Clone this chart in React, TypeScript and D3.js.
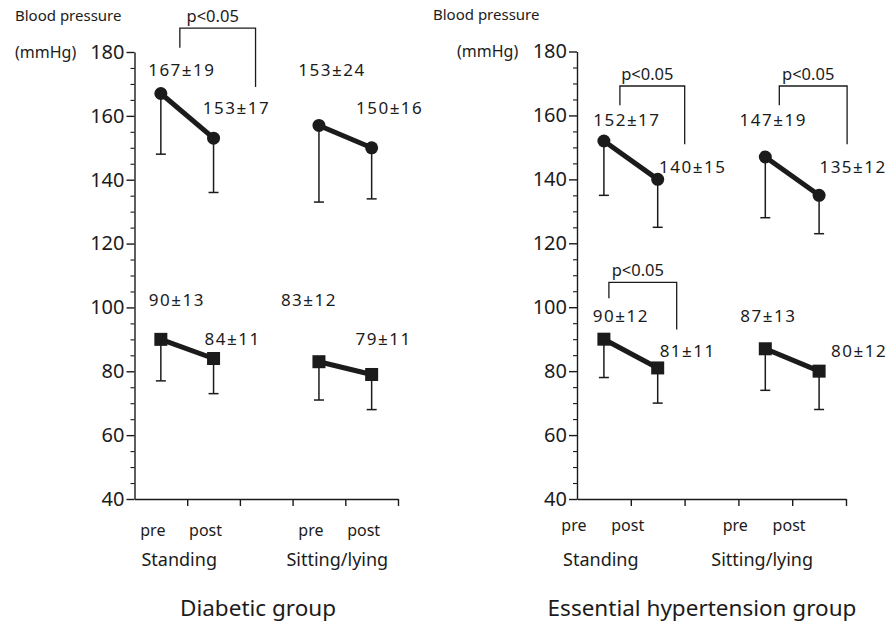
import React, { useEffect, useRef } from "react";
import * as d3 from "d3";

const phases = ["pre", "post", "", "pre", "post"];
const postures = ["Standing", "Sitting/lying"];
const yTicks = [40, 60, 80, 100, 120, 140, 160, 180];
// slot of each measurement: standing pre, standing post, sitting pre, sitting post
const slots = [0, 1, 3, 4];

const diabeticSystolic = [167, 153, 157, 150];
const diabeticSystolicSd = [19, 17, 24, 16];
const diabeticSystolicText = ["167±19", "153±17", "153±24", "150±16"];
const diabeticDiastolic = [90, 84, 83, 79];
const diabeticDiastolicSd = [13, 11, 12, 11];
const diabeticDiastolicText = ["90±13", "84±11", "83±12", "79±11"];

const essentialSystolic = [152, 140, 147, 135];
const essentialSystolicSd = [17, 15, 19, 12];
const essentialSystolicText = ["152±17", "140±15", "147±19", "135±12"];
const essentialDiastolic = [90, 81, 87, 80];
const essentialDiastolicSd = [12, 11, 13, 12];
const essentialDiastolicText = ["90±12", "81±11", "87±13", "80±12"];

const pLabel = "p<0.05";

const FONT = "'Noto Sans', 'DejaVu Sans', sans-serif";
const INK = "#1b1b1b";

// layout of the two panels
const panels = [
  {
    title: "Diabetic group",
    titleX: 258,
    x0: 134.5, x1: 398, top: 52, bottom: 499,
    labelShift: -8, phaseY: 530,
    bpX: 15, bpY: 16, mmX: 15,
    sys: diabeticSystolic, sysSd: diabeticSystolicSd, sysText: diabeticSystolicText,
    dia: diabeticDiastolic, diaSd: diabeticDiastolicSd, diaText: diabeticDiastolicText,
    sysDx: [21, 23, 13, 18], sysTy: [174.4, 162.5, 174.4, 162.5],
    diaDx: [16, 19, -10, 12], diaTy: [102.3, 90.1, 102.3, 90.1],
    brackets: [{ pair: 0, dl: 19, dr: 42, top: 187.5, legL: 181.3, legR: 169 }],
  },
  {
    title: "Essential hypertension group",
    titleX: 702,
    x0: 577, x1: 846, top: 51.5, bottom: 499,
    labelShift: -30, phaseY: 525,
    bpX: 433, bpY: 15, mmX: 457,
    sys: essentialSystolic, sysSd: essentialSystolicSd, sysText: essentialSystolicText,
    dia: essentialDiastolic, diaSd: essentialDiastolicSd, diaText: essentialDiastolicText,
    sysDx: [23, 35, 8, 34], sysTy: [158.5, 143.8, 158.5, 143.8],
    diaDx: [17, 30, 3, 40], diaTy: [97.2, 86.2, 97.2, 86.2],
    brackets: [
      { pair: 0, dl: 16, dr: 27, top: 169.2, legL: 163.2, legR: 151 },
      { pair: 1, dl: 14, dr: 28, top: 169.2, legL: 163.2, legR: 151 },
      { pair: 0, dl: 5, dr: 19, top: 107.8, legL: 102.8, legR: 93 },
    ],
  },
];

export default function App() {
  const ref = useRef<SVGSVGElement>(null);

  useEffect(() => {
    const svg = d3.select(ref.current);
    svg.selectAll("*").remove();

    panels.forEach((p) => {
      const g = svg.append("g");
      const y = d3.scaleLinear().domain([40, 180]).range([p.bottom, p.top]);
      const x = d3.scaleBand<number>().domain(d3.range(5)).range([p.x0, p.x1]).padding(0);
      const cx = (i: number) => (x(i) as number) + x.bandwidth() / 2;
      const edges = d3.scaleLinear().domain([0, 5]).range([p.x0, p.x1]);

      // y axis
      const yAxis = g.append("g")
        .attr("transform", `translate(${p.x0},0)`)
        .call(d3.axisLeft(y).tickValues(yTicks).tickSize(8).tickSizeOuter(0).tickPadding(2));
      yAxis.attr("font-family", FONT).attr("font-size", 20);
      yAxis.selectAll("text").attr("fill", INK);
      yAxis.selectAll("line,path").attr("stroke", INK).attr("stroke-width", 1.4);

      const minor = g.append("g")
        .attr("transform", `translate(${p.x0},0)`)
        .call(d3.axisLeft(y).tickValues(d3.range(45, 180, 5).filter((v) => v % 20 !== 0)).tickSize(4).tickFormat(() => ""));
      minor.select(".domain").remove();
      minor.selectAll("line").attr("stroke", INK).attr("stroke-width", 1.1);

      // x axis
      const xAxis = g.append("g")
        .attr("transform", `translate(0,${p.bottom})`)
        .call(d3.axisBottom(edges).tickValues([1, 2, 3, 4, 5]).tickSize(7).tickSizeOuter(0).tickFormat(() => ""));
      xAxis.selectAll("line,path").attr("stroke", INK).attr("stroke-width", 1.4);

      // phase and posture labels
      g.selectAll(".phase")
        .data(phases.map((d, i) => ({ d, i })).filter((o) => o.d !== ""))
        .enter().append("text")
        .attr("x", (o) => cx(o.i) + p.labelShift)
        .attr("y", p.phaseY).attr("dy", "0.35em")
        .attr("text-anchor", "middle").attr("font-family", FONT).attr("font-size", 16).attr("fill", INK)
        .text((o) => o.d);

      g.selectAll(".posture")
        .data(postures)
        .enter().append("text")
        .attr("x", (d, i) => (cx(i * 3) + cx(i * 3 + 1)) / 2 + p.labelShift)
        .attr("y", 560).attr("dy", "0.35em")
        .attr("text-anchor", "middle").attr("font-family", FONT).attr("font-size", 18).attr("fill", INK)
        .text((d) => d);

      g.append("text")
        .attr("x", p.titleX).attr("y", 616)
        .attr("text-anchor", "middle").attr("font-family", FONT).attr("font-size", 22.5).attr("fill", INK)
        .text(p.title);

      g.append("text")
        .attr("x", p.bpX).attr("y", p.bpY).attr("dy", "0.35em")
        .attr("font-family", FONT).attr("font-size", 15).attr("fill", INK)
        .text("Blood pressure");
      g.append("text")
        .attr("x", p.mmX).attr("y", y(180)).attr("dy", "0.35em")
        .attr("font-family", FONT).attr("font-size", 16).attr("fill", INK)
        .text("(mmHg)");

      // series
      const series = [
        { mean: p.sys, sd: p.sysSd, text: p.sysText, dx: p.sysDx, ty: p.sysTy, shape: "circle" },
        { mean: p.dia, sd: p.diaSd, text: p.diaText, dx: p.diaDx, ty: p.diaTy, shape: "square" },
      ];

      series.forEach((s) => {
        const pts = s.mean.map((m, i) => ({ m, sd: s.sd[i], slot: slots[i], t: s.text[i], dx: s.dx[i], ty: s.ty[i] }));

        // error bars (downward)
        pts.forEach((d) => {
          const px = cx(d.slot);
          g.append("line")
            .attr("x1", px).attr("x2", px)
            .attr("y1", y(d.m)).attr("y2", y(d.m - d.sd))
            .attr("stroke", INK).attr("stroke-width", 1.5);
          g.append("line")
            .attr("x1", px - 5).attr("x2", px + 5)
            .attr("y1", y(d.m - d.sd)).attr("y2", y(d.m - d.sd))
            .attr("stroke", INK).attr("stroke-width", 1.5);
        });

        // pre -> post lines
        const line = d3.line<{ m: number; slot: number }>().x((d) => cx(d.slot)).y((d) => y(d.m));
        [[pts[0], pts[1]], [pts[2], pts[3]]].forEach((pair) => {
          g.append("path").attr("d", line(pair) as string)
            .attr("fill", "none").attr("stroke", INK).attr("stroke-width", 5);
        });

        pts.forEach((d) => {
          if (s.shape === "circle") {
            g.append("circle").attr("cx", cx(d.slot)).attr("cy", y(d.m)).attr("r", 6.5).attr("fill", INK);
          } else {
            g.append("rect")
              .attr("x", cx(d.slot) - 6.5).attr("y", y(d.m) - 6.5)
              .attr("width", 13).attr("height", 13).attr("fill", INK);
          }
          g.append("text")
            .attr("x", cx(d.slot) + d.dx).attr("y", y(d.ty)).attr("dy", "0.35em")
            .attr("text-anchor", "middle").attr("font-family", FONT).attr("font-size", 17)
            .attr("letter-spacing", 1.5).attr("fill", INK)
            .text(d.t);
        });
      });

      // significance brackets
      p.brackets.forEach((b) => {
        const xl = cx(slots[b.pair * 2]) + b.dl;
        const xr = cx(slots[b.pair * 2 + 1]) + b.dr;
        g.append("path")
          .attr("d", `M${xl},${y(b.legL)}V${y(b.top)}H${xr}V${y(b.legR)}`)
          .attr("fill", "none").attr("stroke", INK).attr("stroke-width", 1.3);
        g.append("text")
          .attr("x", (xl + xr) / 2 - 5).attr("y", y(b.top) - 12).attr("dy", "0.35em")
          .attr("text-anchor", "middle").attr("font-family", FONT).attr("font-size", 16.5).attr("fill", INK)
          .text(pLabel);
      });
    });
  }, []);

  return (
    <svg ref={ref} width={889} height={626} style={{ position: "absolute", left: 0, top: 0, background: "#fff" }} />
  );
}
